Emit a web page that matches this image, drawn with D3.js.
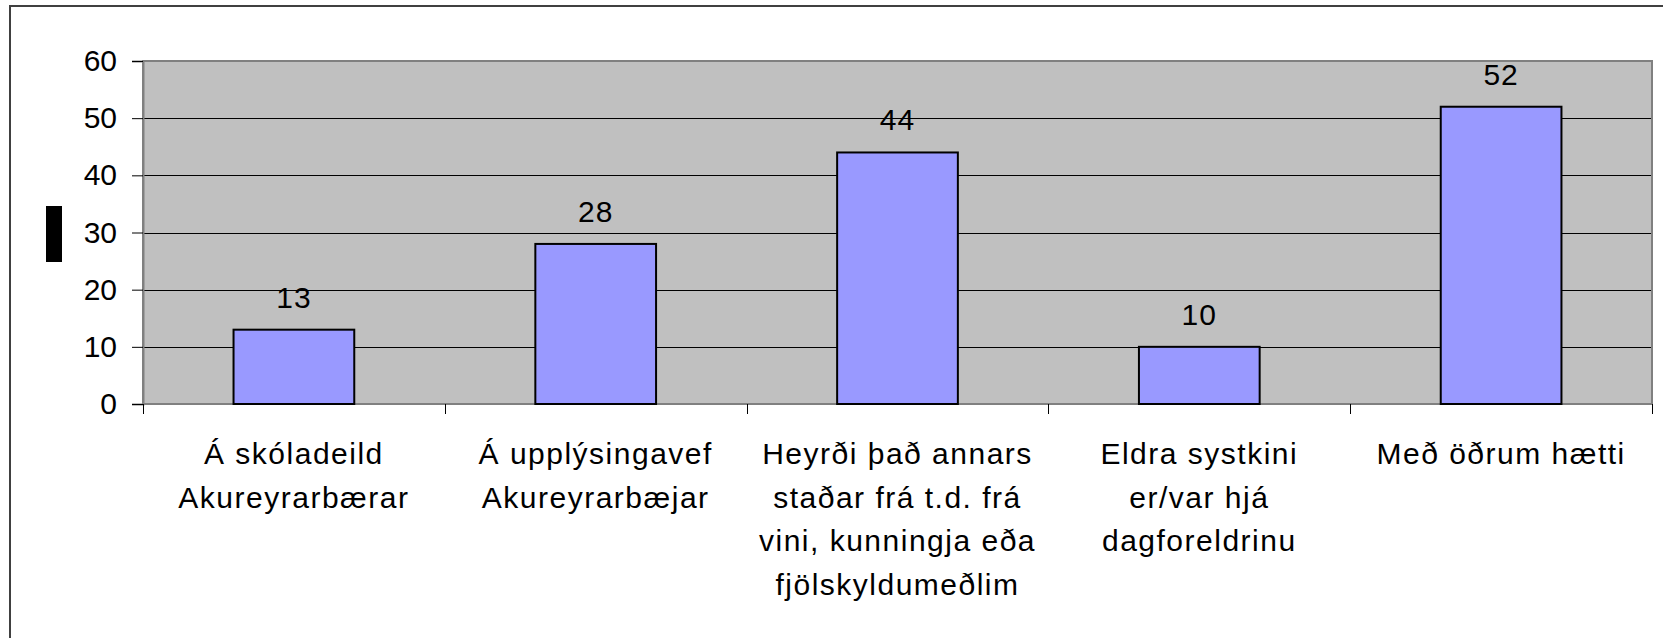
<!DOCTYPE html>
<html>
<head>
<meta charset="utf-8">
<script src="https://cdn.jsdelivr.net/npm/d3@7"></script>
<style>
    body { margin: 0; background: #fff; }
    svg { display: block; font-family: "Liberation Sans", Arial, sans-serif; }
</style>
</head>
<body>
<svg id="chart" width="1663" height="638"></svg>
<script>
const categories = [
    ["Á skóladeild", "Akureyrarbærar"],
    ["Á upplýsingavef", "Akureyrarbæjar"],
    ["Heyrði það annars", "staðar frá t.d. frá", "vini, kunningja eða", "fjölskyldumeðlim"],
    ["Eldra systkini", "er/var hjá", "dagforeldrinu"],
    ["Með öðrum hætti"]
];
const values = [13, 28, 44, 10, 52];
const yTicks = [0, 10, 20, 30, 40, 50, 60];

const svg = d3.select('#chart');
const plot = {left: 143, right: 1652, top: 61, bottom: 404};

const x = d3.scaleBand()
    .domain(d3.range(categories.length))
    .range([plot.left, plot.right])
    .paddingInner(0.6)
    .paddingOuter(0.3);

const y = d3.scaleLinear()
    .domain([0, 60])
    .range([plot.bottom, plot.top]);

// outer chart frame (only top and left edges show)
svg.append('path')
    .attr('d', 'M10,638 V6 H1663')
    .attr('fill', 'none')
    .attr('stroke', '#404040')
    .attr('stroke-width', 2);

// plot background
svg.append('rect')
    .attr('x', plot.left)
    .attr('y', plot.top)
    .attr('width', plot.right - plot.left)
    .attr('height', plot.bottom - plot.top)
    .attr('fill', '#c0c0c0');

// gridlines
svg.append('g')
    .selectAll('line')
    .data(yTicks.slice(1, -1))
    .join('line')
    .attr('x1', plot.left)
    .attr('x2', plot.right)
    .attr('y1', d => Math.round(y(d)) + 0.5)
    .attr('y2', d => Math.round(y(d)) + 0.5)
    .attr('stroke', '#000')
    .attr('stroke-width', 1);

svg.append('rect')
    .attr('x', plot.left)
    .attr('y', plot.top)
    .attr('width', plot.right - plot.left)
    .attr('height', plot.bottom - plot.top)
    .attr('fill', 'none')
    .attr('stroke', '#808080')
    .attr('stroke-width', 2);

// bars
svg.append('g')
    .selectAll('rect')
    .data(values)
    .join('rect')
    .attr('x', (d, i) => x(i))
    .attr('y', d => y(d))
    .attr('width', x.bandwidth())
    .attr('height', d => y(0) - y(d))
    .attr('fill', '#9999ff')
    .attr('stroke', '#000')
    .attr('stroke-width', 2);

// value labels
svg.append('g')
    .selectAll('text')
    .data(values)
    .join('text')
    .attr('x', (d, i) => x(i) + x.bandwidth() / 2)
    .attr('y', d => y(d) - 22)
    .attr('text-anchor', 'middle')
    .attr('font-size', 30)
    .attr('letter-spacing', 1)
    .text(d => d);

// y axis
const yAxis = d3.axisLeft(y)
    .tickValues(yTicks)
    .tickSize(11)
    .tickPadding(15);

svg.append('g')
    .attr('transform', 'translate(' + plot.left + ',0)')
    .call(yAxis)
    .call(g => g.select('.domain').attr('stroke', '#808080').attr('stroke-width', 2))
    .call(g => g.selectAll('.tick line').attr('stroke', '#000'))
    .call(g => g.selectAll('.tick text')
        .attr('font-size', 30)
        .attr('font-family', '"Liberation Sans", Arial, sans-serif')
        .attr('fill', '#000'));

// category tick marks on the x axis
svg.append('g')
    .selectAll('line')
    .data(d3.range(categories.length + 1))
    .join('line')
    .attr('x1', i => Math.round(plot.left + i * x.step()) + 0.5)
    .attr('x2', i => Math.round(plot.left + i * x.step()) + 0.5)
    .attr('y1', plot.bottom)
    .attr('y2', plot.bottom + 10)
    .attr('stroke', '#000');

// category labels
svg.append('g')
    .selectAll('text')
    .data(categories)
    .join('text')
    .attr('text-anchor', 'middle')
    .attr('font-size', 30)
    .attr('letter-spacing', 1.5)
    .each(function (lines, i) {
        d3.select(this).selectAll('tspan')
            .data(lines)
            .join('tspan')
            .attr('x', x(i) + x.bandwidth() / 2)
            .attr('y', (d, j) => 464 + j * 43.7)
            .text(d => d);
    });

// rotated axis title came out as a solid block in the original
svg.append('rect')
    .attr('x', 46)
    .attr('y', 206)
    .attr('width', 16)
    .attr('height', 56)
    .attr('fill', '#000');
</script>
</body>
</html>
